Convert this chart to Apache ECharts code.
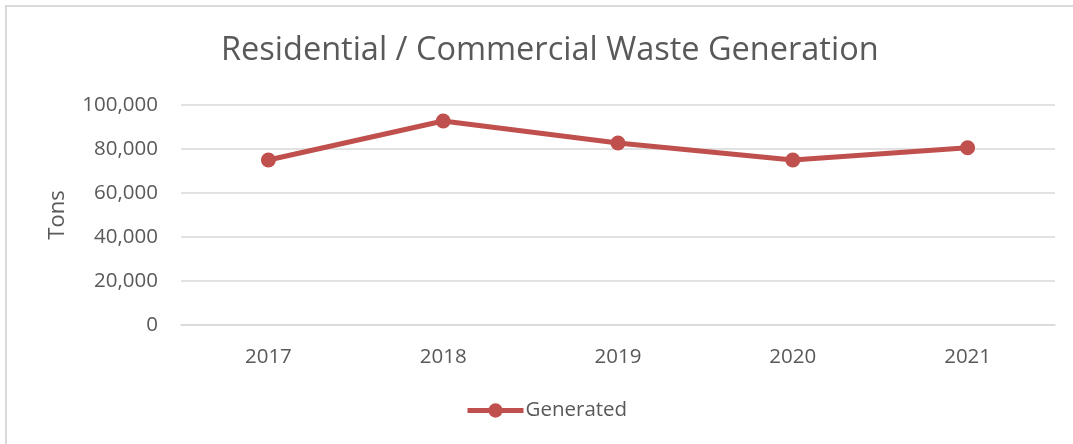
<!DOCTYPE html>
<html>
<head>
<meta charset="utf-8">
<script src="https://cdn.jsdelivr.net/npm/echarts@6/dist/echarts.min.js"></script>
<style>
  html, body { margin: 0; padding: 0; background: #fff; }
  #chart { width: 1073px; height: 444px; }
</style>
</head>
<body>
<div id="chart"></div>
<script>
var years = ['2017', '2018', '2019', '2020', '2021'];
var generated = [75000, 92700, 82700, 75000, 80600];
var yTicks = [0, 20000, 40000, 60000, 80000, 100000];

var chart = echarts.init(document.getElementById('chart'));

var font = '"Open Sans", sans-serif';

option = {
    animation: false,
    backgroundColor: '#ffffff',
    textStyle: { fontFamily: font, color: '#595959' },
    graphic: [
        {
            type: 'rect',
            shape: { x: 6, y: 6, width: 1300, height: 800 },
            style: { fill: 'none', stroke: '#d9d9d9', lineWidth: 2 },
            silent: true
        }
    ],
    title: {
        text: 'Residential / Commercial Waste Generation',
        left: 216,
        top: 29,
        textStyle: { fontFamily: font, fontSize: 32.5, fontWeight: 'normal', color: '#595959' }
    },
    legend: {
        bottom: 18,
        left: 460,
        itemWidth: 56,
        itemHeight: 18,
        itemGap: 4,
        lineStyle: { width: 5 },
        textStyle: { fontFamily: font, fontSize: 20.5, color: '#595959', padding: [0, 0, 0, -3] },
        data: ['Generated']
    },
    grid: {
        left: 181,
        right: 18,
        top: 105,
        bottom: 119
    },
    xAxis: {
        type: 'category',
        data: years,
        axisTick: { show: false },
        axisLine: { lineStyle: { color: '#d9d9d9', width: 1.5 } },
        axisLabel: { fontFamily: font, fontSize: 20.5, color: '#595959', margin: 22 }
    },
    yAxis: {
        type: 'value',
        min: yTicks[0],
        max: yTicks[yTicks.length - 1],
        interval: 20000,
        name: 'Tons',
        nameLocation: 'middle',
        nameGap: 112,
        nameTextStyle: { fontFamily: font, fontSize: 22, color: '#595959' },
        axisLine: { show: false },
        axisTick: { show: false },
        splitLine: { lineStyle: { color: '#d9d9d9', width: 1.5 } },
        axisLabel: {
            fontFamily: font, fontSize: 20.5, color: '#595959', margin: 23,
            formatter: function (v) { return v.toLocaleString('en-US'); }
        }
    },
    series: [
        {
            name: 'Generated',
            type: 'line',
            data: generated,
            symbol: 'circle',
            symbolSize: 15,
            itemStyle: { color: '#c0504d' },
            lineStyle: { color: '#c0504d', width: 5 }
        }
    ]
};

chart.setOption(option);
</script>
</body>
</html>
